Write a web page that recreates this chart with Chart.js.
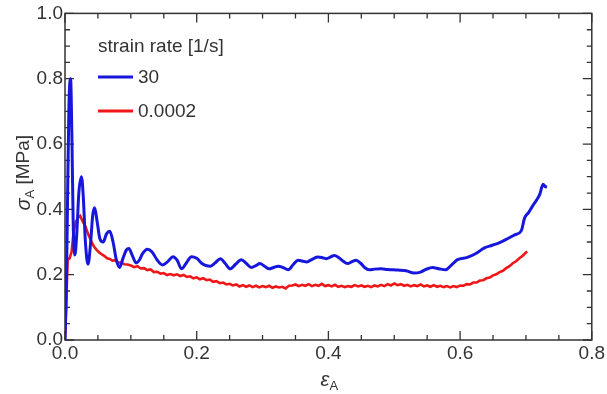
<!DOCTYPE html>
<html lang="en">
<head>
    <meta charset="UTF-8">
    <title>Stress-strain curves</title>
    <script src="https://cdn.jsdelivr.net/npm/chart.js"></script>
    <style>
        html, body { margin: 0; padding: 0; background: #fff; }
        #wrap { width: 607px; height: 394px; }
    </style>
</head>
<body>
    <div id="wrap"><canvas id="chart" width="607" height="394"></canvas></div>

    <script>
        // strain rate 30 1/s
        const fastStrain = [0, 0.002, 0.004, 0.006, 0.0085, 0.0105, 0.0125, 0.015, 0.018, 0.021, 0.025, 0.028, 0.031, 0.035, 0.039, 0.042, 0.045, 0.049, 0.053, 0.058, 0.063, 0.068, 0.073, 0.078, 0.083, 0.088, 0.093, 0.097, 0.102, 0.108, 0.113, 0.118, 0.125, 0.132, 0.140, 0.148, 0.156, 0.164, 0.170, 0.177, 0.184, 0.192, 0.200, 0.208, 0.214, 0.221, 0.228, 0.236, 0.243, 0.251, 0.259, 0.268, 0.275, 0.283, 0.290, 0.296, 0.303, 0.310, 0.317, 0.324, 0.331, 0.339, 0.347, 0.354, 0.360, 0.367, 0.376, 0.384, 0.391, 0.397, 0.403, 0.409, 0.416, 0.422, 0.429, 0.436, 0.442, 0.449, 0.455, 0.462, 0.470, 0.480, 0.490, 0.505, 0.518, 0.530, 0.540, 0.548, 0.558, 0.568, 0.578, 0.586, 0.596, 0.611, 0.624, 0.637, 0.649, 0.660, 0.672, 0.683, 0.693, 0.698, 0.704, 0.710, 0.716, 0.721, 0.726, 0.729, 0.732];
        const fastStress = [0, 0.15, 0.45, 0.72, 0.80, 0.62, 0.35, 0.26, 0.33, 0.45, 0.50, 0.43, 0.30, 0.232, 0.30, 0.38, 0.405, 0.36, 0.31, 0.30, 0.325, 0.333, 0.30, 0.245, 0.222, 0.25, 0.275, 0.28, 0.26, 0.236, 0.245, 0.265, 0.278, 0.27, 0.245, 0.23, 0.24, 0.255, 0.245, 0.218, 0.235, 0.255, 0.25, 0.234, 0.228, 0.226, 0.236, 0.249, 0.235, 0.218, 0.232, 0.246, 0.235, 0.222, 0.228, 0.234, 0.226, 0.218, 0.222, 0.226, 0.222, 0.215, 0.232, 0.244, 0.242, 0.239, 0.248, 0.254, 0.252, 0.249, 0.254, 0.259, 0.252, 0.242, 0.234, 0.24, 0.244, 0.235, 0.222, 0.215, 0.217, 0.218, 0.216, 0.214, 0.212, 0.205, 0.208, 0.216, 0.222, 0.218, 0.215, 0.228, 0.246, 0.253, 0.265, 0.282, 0.29, 0.298, 0.31, 0.322, 0.335, 0.374, 0.39, 0.41, 0.428, 0.446, 0.477, 0.470, 0.468];

        // strain rate 0.0002 1/s (noisy quasi-static curve)
        const slowStrain = [0, 0.002, 0.004, 0.007, 0.010, 0.013, 0.016, 0.020, 0.023, 0.027, 0.031, 0.035, 0.040, 0.044, 0.048, 0.052, 0.056, 0.060, 0.064, 0.068, 0.072, 0.076, 0.080, 0.085, 0.090, 0.095,
            0.100, 0.105, 0.110, 0.115, 0.120, 0.125, 0.130, 0.135, 0.140, 0.145, 0.150, 0.155, 0.160, 0.165, 0.170, 0.175, 0.180, 0.185, 0.190, 0.195,
            0.200, 0.205, 0.210, 0.215, 0.220, 0.225, 0.230, 0.235, 0.240, 0.245, 0.250, 0.255, 0.260, 0.265, 0.270, 0.275, 0.280, 0.285, 0.290, 0.295,
            0.300, 0.305, 0.310, 0.315, 0.320, 0.325, 0.330, 0.335, 0.340, 0.345, 0.350, 0.355, 0.360, 0.365, 0.370, 0.375, 0.380, 0.385, 0.390, 0.395,
            0.400, 0.405, 0.410, 0.415, 0.420, 0.425, 0.430, 0.435, 0.440, 0.445, 0.450, 0.455, 0.460, 0.465, 0.470, 0.475, 0.480, 0.485, 0.490, 0.495,
            0.500, 0.505, 0.510, 0.515, 0.520, 0.525, 0.530, 0.535, 0.540, 0.545, 0.550, 0.555, 0.560, 0.565, 0.570, 0.575, 0.580, 0.585, 0.590, 0.595,
            0.600, 0.605, 0.610, 0.615, 0.620, 0.625, 0.630, 0.635, 0.640, 0.645, 0.650, 0.655, 0.660, 0.665, 0.670, 0.675, 0.680, 0.685, 0.690, 0.695,
            0.700, 0.702];
        const slowStress = [0, 0.12, 0.245, 0.25, 0.27, 0.33, 0.36, 0.375, 0.38, 0.362, 0.348, 0.325, 0.302, 0.286, 0.276, 0.268, 0.262, 0.257, 0.250, 0.248, 0.243, 0.244, 0.238, 0.237, 0.232, 0.231,
            0.228, 0.223, 0.226, 0.219, 0.220, 0.214, 0.216, 0.208, 0.209, 0.203, 0.205, 0.199, 0.202, 0.198, 0.201, 0.196, 0.199, 0.193, 0.195, 0.189,
            0.192, 0.186, 0.189, 0.183, 0.185, 0.178, 0.180, 0.174, 0.176, 0.170, 0.172, 0.167, 0.170, 0.164, 0.168, 0.163, 0.167, 0.162, 0.166, 0.161,
            0.165, 0.162, 0.166, 0.160, 0.164, 0.161, 0.163, 0.158, 0.166, 0.167, 0.170, 0.165, 0.169, 0.166, 0.171, 0.165, 0.169, 0.166, 0.172, 0.165,
            0.168, 0.164, 0.169, 0.163, 0.166, 0.162, 0.165, 0.163, 0.168, 0.164, 0.167, 0.163, 0.166, 0.162, 0.167, 0.164, 0.169, 0.165, 0.171, 0.167,
            0.173, 0.168, 0.171, 0.166, 0.169, 0.164, 0.168, 0.165, 0.170, 0.164, 0.167, 0.163, 0.168, 0.163, 0.166, 0.162, 0.165, 0.161, 0.165, 0.162,
            0.167, 0.166, 0.171, 0.170, 0.176, 0.176, 0.182, 0.183, 0.189, 0.191, 0.198, 0.201, 0.208, 0.212, 0.220, 0.226, 0.235, 0.241, 0.250, 0.258,
            0.268, 0.271];

        const xTicks = [0, 0.2, 0.4, 0.6, 0.8];
        const yTicks = [0, 0.2, 0.4, 0.6, 0.8, 1.0];
        const legendTitle = 'strain rate [1/s]';

        const FONT = '"Liberation Sans", Arial, sans-serif';
        const INK = '#333';

        const toPoints = (xs, ys) => xs.map((x, i) => ({x: x, y: ys[i]}));

        // box with inward ticks on all four sides, legend and axis titles
        const framePlugin = {
            id: 'frame',
            beforeDatasetsDraw(chart) {
                const {ctx, chartArea: a, scales: {x, y}} = chart;
                ctx.save();
                ctx.strokeStyle = INK;
                ctx.lineWidth = 1.5;
                ctx.strokeRect(a.left, a.top, a.right - a.left, a.bottom - a.top);
                ctx.lineWidth = 1.3;
                ctx.beginPath();
                for (let i = 0; i <= 16; i++) {
                    const px = x.getPixelForValue(i * 0.05);
                    const len = i % 4 === 0 ? 9 : 5;
                    ctx.moveTo(px, a.bottom); ctx.lineTo(px, a.bottom - len);
                    ctx.moveTo(px, a.top); ctx.lineTo(px, a.top + len);
                }
                for (let i = 0; i <= 20; i++) {
                    const py = y.getPixelForValue(i * 0.05);
                    const len = i % 4 === 0 ? 9 : 5;
                    ctx.moveTo(a.left, py); ctx.lineTo(a.left + len, py);
                    ctx.moveTo(a.right, py); ctx.lineTo(a.right - len, py);
                }
                ctx.stroke();
                ctx.restore();
            },
            afterDraw(chart) {
                const {ctx, chartArea: a} = chart;
                ctx.save();
                ctx.fillStyle = INK;
                ctx.textBaseline = 'middle';

                // legend
                ctx.font = '19px ' + FONT;
                ctx.textAlign = 'left';
                ctx.fillText(legendTitle, a.left + 33, 47);
                chart.data.datasets.forEach((ds, i) => {
                    const ly = 77 + i * 34;
                    ctx.strokeStyle = ds.borderColor;
                    ctx.lineWidth = 3;
                    ctx.beginPath();
                    ctx.moveTo(a.left + 33, ly);
                    ctx.lineTo(a.left + 68, ly);
                    ctx.stroke();
                    ctx.fillText(ds.label, a.left + 73, ly + 1);
                });

                // x title: eps_A
                const cx = (a.left + a.right) / 2;
                ctx.font = 'italic 20px ' + FONT;
                ctx.textAlign = 'right';
                ctx.fillText('\u03B5', cx + 1, 380);
                ctx.font = '13px ' + FONT;
                ctx.textAlign = 'left';
                ctx.fillText('A', cx + 1, 386);

                // y title: sigma_A [MPa]
                ctx.translate(24, (a.top + a.bottom) / 2 - 4);
                ctx.rotate(-Math.PI / 2);
                ctx.font = 'italic 20px ' + FONT;
                const w1 = ctx.measureText('\u03C3').width;
                ctx.font = '13px ' + FONT;
                const w2 = ctx.measureText('A').width;
                ctx.font = '19px ' + FONT;
                const w3 = ctx.measureText(' [MPa]').width;
                let tx = -(w1 + w2 + w3) / 2;
                ctx.font = 'italic 20px ' + FONT;
                ctx.fillText('\u03C3', tx, 0);
                tx += w1;
                ctx.font = '13px ' + FONT;
                ctx.fillText('A', tx, 6);
                tx += w2;
                ctx.font = '19px ' + FONT;
                ctx.fillText(' [MPa]', tx, 0);
                ctx.restore();
            }
        };

        new Chart(document.getElementById('chart'), {
            type: 'line',
            data: {
                datasets: [{
                    label: '30',
                    data: toPoints(fastStrain, fastStress),
                    borderColor: 'rgb(22, 22, 220)',
                    borderWidth: 3,
                    pointRadius: 0,
                    cubicInterpolationMode: 'monotone'
                }, {
                    label: '0.0002',
                    data: toPoints(slowStrain, slowStress),
                    borderColor: 'rgb(238, 22, 22)',
                    borderWidth: 2.6,
                    pointRadius: 0,
                    tension: 0
                }]
            },
            options: {
                responsive: false,
                animation: false,
                layout: {padding: {left: 0, right: 11, top: 12, bottom: 0}},
                plugins: {legend: {display: false}, tooltip: {enabled: false}},
                scales: {
                    x: {
                        type: 'linear',
                        min: 0, max: 0.8,
                        afterFit: s => { s.height = 54; },
                        afterBuildTicks: s => { s.ticks = xTicks.map(v => ({value: v})); },
                        grid: {display: false, drawTicks: false},
                        border: {display: false},
                        ticks: {
                            padding: 2,
                            color: INK,
                            font: {family: FONT, size: 19},
                            callback: v => v.toFixed(1)
                        }
                    },
                    y: {
                        min: 0, max: 1,
                        afterFit: s => { s.width = 65; },
                        afterBuildTicks: s => { s.ticks = yTicks.map(v => ({value: v})); },
                        grid: {display: false, drawTicks: false},
                        border: {display: false},
                        ticks: {
                            padding: 2,
                            color: INK,
                            font: {family: FONT, size: 19},
                            callback: v => v.toFixed(1)
                        }
                    }
                }
            },
            plugins: [framePlugin]
        });
    </script>
</body>
</html>
